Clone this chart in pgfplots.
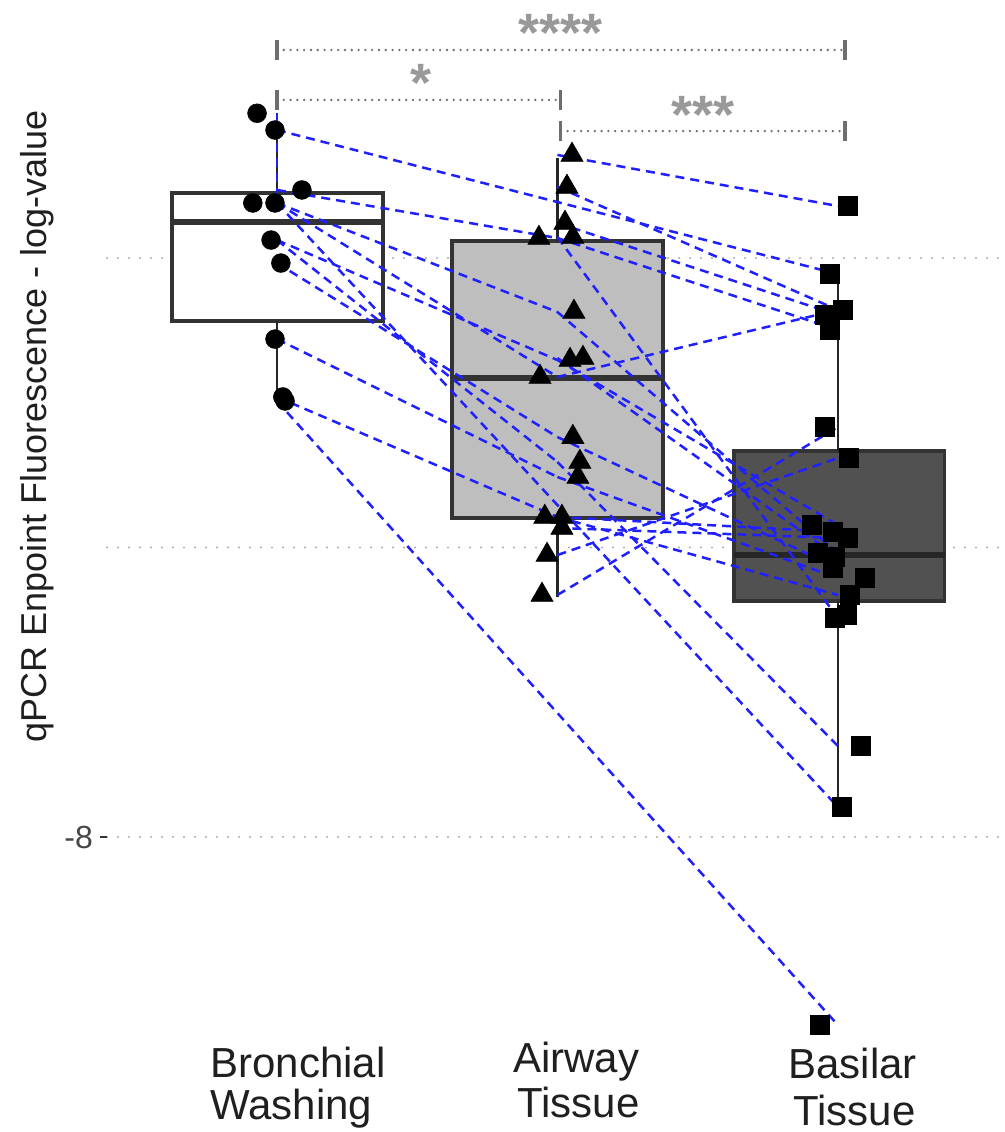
\documentclass[border=0pt]{standalone}
\usepackage{fontspec}
\setmainfont{Liberation Sans}
\usepackage{pgfplots}
\pgfplotsset{compat=1.18}
\definecolor{boxc}{HTML}{333333}
\definecolor{airfill}{HTML}{BEBEBE}
\definecolor{basfill}{HTML}{515151}
\definecolor{lineblue}{HTML}{2020FF}
\definecolor{gridc}{HTML}{ABABAB}
\definecolor{brk}{HTML}{6E6E6E}
\definecolor{starc}{HTML}{999999}
\begin{document}
\begin{tikzpicture}
\useasboundingbox (-53.5pt,-51pt) rectangle (449pt,515pt);
\begin{axis}[
  at={(0,0)}, anchor=south west, scale only axis,
  width=446.5pt, height=515pt,
  xmin=0.394, xmax=3.578, ymin=-9.3333, ymax=-2.2176,
  axis lines*=left, axis line style={draw=none},
  xtick=\empty,
  ytick={-8}, yticklabels={-8},
  yticklabel style={font=\fontsize{16}{18}\selectfont, text=black!72},
  extra y ticks={-6,-4}, extra y tick labels={},
  extra y tick style={grid=major, major tick length=0pt},
  ymajorgrids,
  grid style={gridc, line width=1.2pt, line cap=round, dash pattern=on 0pt off 5.5pt},
  major tick length=3.5pt, tick align=outside,
  ytick style={black!80, line width=1pt},
  clip=false,
  pair/.style={lineblue, line width=1.25pt, dash pattern=on 4.5pt off 3pt, no marks},
  boxs/.style={draw=boxc, line width=1.7pt, no marks},
  meds/.style={draw=boxc, line width=2.8pt, no marks},
  whis/.style={draw=black!85, line width=1.1pt, no marks},
]
% boxes: Bronchial Washing
\addplot[boxs, fill=white] coordinates {(0.626,-4.435) (1.378,-4.435) (1.378,-3.551) (0.626,-3.551)} -- cycle;
\addplot[meds] coordinates {(0.626,-3.751) (1.378,-3.751)};
\addplot[whis] coordinates {(1,-3.551) (1,-3.116)};
\addplot[whis] coordinates {(1,-4.435) (1,-4.98)};
% Airway Tissue
\addplot[boxs, fill=airfill] coordinates {(1.624,-5.796) (2.376,-5.796) (2.376,-3.883) (1.624,-3.883)} -- cycle;
\addplot[meds] coordinates {(1.624,-4.829) (2.376,-4.829)};
\addplot[whis] coordinates {(2,-3.883) (2,-3.309)};
\addplot[whis] coordinates {(2,-5.796) (2,-6.342)};
% Basilar Tissue
\addplot[boxs, fill=basfill] coordinates {(2.629,-6.370) (3.381,-6.370) (3.381,-5.333) (2.629,-5.333)} -- cycle;
\addplot[meds, draw=black!85] coordinates {(2.629,-6.052) (3.381,-6.052)};
\addplot[whis] coordinates {(3,-5.333) (3,-4.117)};
\addplot[whis] coordinates {(3,-6.370) (3,-7.793)};
% points
\addplot[only marks, mark=*, mark size=4.7pt, mark options={fill=black, draw=black, line width=0.3pt}] coordinates {
(0.929,-3.000) (0.993,-3.116) (1.089,-3.530) (0.914,-3.620) (0.993,-3.620)
(0.979,-3.876) (1.014,-4.035) (0.993,-4.560) (1.021,-4.960) (1.029,-4.988)};
\addplot[only marks, mark=triangle*, mark size=6.4pt, mark options={fill=black, draw=black, line width=0.3pt}] coordinates {
(2.052,-3.288) (2.034,-3.509) (2.027,-3.758) (2.055,-3.855) (1.934,-3.862)
(2.059,-4.373) (2.045,-4.705) (2.091,-4.691) (1.938,-4.822) (2.055,-5.237)
(2.080,-5.409) (2.073,-5.513) (1.955,-5.789) (2.016,-5.789) (2.016,-5.865)
(1.963,-6.052) (1.945,-6.328)};
\addplot[only marks, mark=square*, mark size=4.7pt, mark options={fill=black, draw=black, line width=0.3pt}] coordinates {
(3.036,-3.641) (2.971,-4.111) (3.018,-4.359) (2.954,-4.394) (2.971,-4.497)
(2.954,-5.168) (3.039,-5.382) (2.907,-5.845) (2.982,-5.893) (3.036,-5.934)
(2.929,-6.038) (2.989,-6.066) (2.982,-6.142) (3.096,-6.211) (3.043,-6.328)
(3.032,-6.466) (2.989,-6.487) (3.082,-7.371) (3.014,-7.793) (2.936,-9.299)};
% paired lines
\addplot[pair] coordinates {(1,-3.000) (1,-3.620)};
\addplot[pair] coordinates {(1,-3.530) (2,-3.862)};
\addplot[pair] coordinates {(1,-3.620) (2,-4.822)};
\addplot[pair] coordinates {(1,-3.620) (2,-4.373)};
\addplot[pair] coordinates {(1,-3.876) (2,-4.705)};
\addplot[pair] coordinates {(1,-3.876) (2,-5.409)};
\addplot[pair] coordinates {(1,-4.035) (2,-5.237)};
\addplot[pair] coordinates {(1,-4.560) (2,-5.513)};
\addplot[pair] coordinates {(1,-4.960) (2,-5.789)};
\addplot[pair] coordinates {(1,-3.116) (3,-4.111)};
\addplot[pair] coordinates {(1,-3.620) (3,-7.793)};
\addplot[pair] coordinates {(1,-4.988) (3,-9.299)};
\addplot[pair] coordinates {(2,-3.288) (3,-3.641)};
\addplot[pair] coordinates {(2,-3.509) (3,-4.359)};
\addplot[pair] coordinates {(2,-3.758) (3,-4.394)};
\addplot[pair] coordinates {(2,-3.855) (3,-6.487)};
\addplot[pair] coordinates {(2,-3.862) (3,-4.497)};
\addplot[pair] coordinates {(2,-4.373) (3,-6.038)};
\addplot[pair] coordinates {(2,-4.691) (3,-6.066)};
\addplot[pair] coordinates {(2,-4.705) (3,-5.845)};
\addplot[pair] coordinates {(2,-4.822) (3,-4.359)};
\addplot[pair] coordinates {(2,-5.237) (3,-6.142)};
\addplot[pair] coordinates {(2,-5.409) (3,-7.371)};
\addplot[pair] coordinates {(2,-5.513) (3,-6.211)};
\addplot[pair] coordinates {(2,-5.789) (3,-5.893)};
\addplot[pair] coordinates {(2,-5.789) (3,-6.328)};
\addplot[pair] coordinates {(2,-5.865) (3,-5.934)};
\addplot[pair] coordinates {(2,-6.052) (3,-5.382)};
\addplot[pair] coordinates {(2,-6.328) (3,-5.168)};
% significance brackets
\draw[brk, line width=1.3pt, line cap=round, dash pattern=on 0pt off 3.4pt] (1,-2.563) -- (3.025,-2.563);
\draw[brk, line width=1.6pt] (1,-2.494) -- (1,-2.632);
\draw[brk, line width=1.6pt] (3.025,-2.494) -- (3.025,-2.632);
\draw[brk, line width=1.3pt, line cap=round, dash pattern=on 0pt off 3.4pt] (1,-2.908) -- (2.012,-2.908);
\draw[brk, line width=1.6pt] (1,-2.839) -- (1,-2.977);
\draw[brk, line width=1.6pt] (2.012,-2.839) -- (2.012,-2.977);
\draw[brk, line width=1.3pt, line cap=round, dash pattern=on 0pt off 3.4pt] (2.012,-3.123) -- (3.025,-3.123);
\draw[brk, line width=1.6pt] (2.012,-3.054) -- (2.012,-3.192);
\draw[brk, line width=1.6pt] (3.025,-3.054) -- (3.025,-3.192);
\node[text=starc, font=\fontsize{27}{29}\bfseries\selectfont, anchor=base, inner sep=0pt] at (2.012,-2.575) {****};
\node[text=starc, font=\fontsize{27}{29}\bfseries\selectfont, anchor=base, inner sep=0pt] at (1.513,-2.920) {*};
\node[text=starc, font=\fontsize{27}{29}\bfseries\selectfont, anchor=base, inner sep=0pt] at (2.519,-3.140) {***};
% axis title
\node[rotate=90, anchor=base, inner sep=0pt, text=black!88, font=\fontsize{18}{20}\selectfont] at (0.177,-5.161) {qPCR Enpoint Fluorescence - log-value};
% category labels
\node[anchor=base west, inner sep=0pt, text=black!88, font=\fontsize{21}{22}\selectfont] at (0.761,-9.658) {Bronchial};
\node[anchor=base west, inner sep=0pt, text=black!88, font=\fontsize{21}{22}\selectfont] at (0.761,-9.955) {Washing};
\node[anchor=base west, inner sep=0pt, text=black!88, font=\fontsize{21}{22}\selectfont] at (1.841,-9.624) {Airway};
\node[anchor=base west, inner sep=0pt, text=black!88, font=\fontsize{21}{22}\selectfont] at (1.856,-9.941) {Tissue};
\node[anchor=base west, inner sep=0pt, text=black!88, font=\fontsize{21}{22}\selectfont] at (2.822,-9.665) {Basilar};
\node[anchor=base west, inner sep=0pt, text=black!88, font=\fontsize{21}{22}\selectfont] at (2.840,-9.990) {Tissue};
\end{axis}
\end{tikzpicture}
\end{document}
